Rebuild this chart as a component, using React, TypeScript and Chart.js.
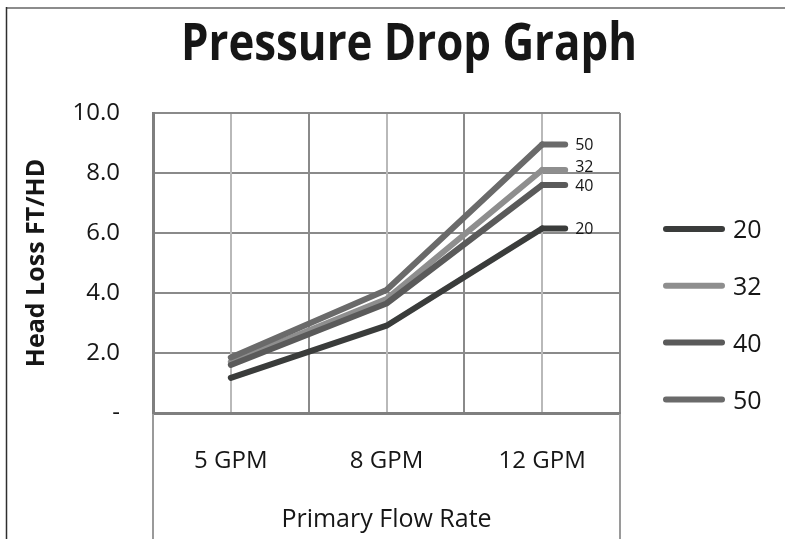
import React, { useEffect, useRef } from 'react';
import { Chart, registerables } from 'chart.js';

Chart.register(...registerables);

// ---- data ----
const categories = ['5 GPM', '8 GPM', '12 GPM'];
const seriesNames = ['20', '32', '40', '50'];
const values20 = [1.17, 2.91, 6.15];
const values32 = [1.7, 3.8, 8.1];
const values40 = [1.6, 3.65, 7.6];
const values50 = [1.85, 4.1, 8.95];
const yMin = 0;
const yMax = 10;
const yStep = 2;
const chartTitle = 'Pressure Drop Graph';
const yTitle = 'Head Loss FT/HD';
const xTitle = 'Primary Flow Rate';

// ---- styles ----
const seriesColors = ['#3a3c3b', '#8e8e8e', '#5a5a5a', '#6a6a6a'];
const FONT = "'Open Sans', sans-serif";
const TEXT = '#161616';
const GRID = '#8a8a8a';
const GRID_LIGHT = '#b9b9b9';

const decorPlugin = {
  id: 'decor',
  beforeDatasetsDraw(chart: any) {
    const { ctx, chartArea, scales } = chart;
    const xs = scales.x;
    ctx.save();
    ctx.strokeStyle = GRID_LIGHT;
    ctx.lineWidth = 2;
    categories.forEach((_, i) => {
      const x = Math.round(xs.getPixelForValue(i));
      ctx.beginPath();
      ctx.moveTo(x, chartArea.top + 1);
      ctx.lineTo(x, chartArea.bottom - 1);
      ctx.stroke();
    });
    ctx.restore();
  },
  afterDatasetsDraw(chart: any) {
    const { ctx } = chart;
    const n = chart.data.datasets.length;
    for (let i = 0; i < n; i++) {
      const ds = chart.data.datasets[i];
      const meta = chart.getDatasetMeta(i);
      const pt = meta.data[meta.data.length - 1];
      if (!pt) continue;
      ctx.save();
      ctx.strokeStyle = ds.borderColor;
      ctx.lineWidth = ds.borderWidth;
      ctx.lineCap = 'round';
      ctx.beginPath();
      ctx.moveTo(pt.x, pt.y);
      ctx.lineTo(pt.x + 23, pt.y);
      ctx.stroke();
      ctx.restore();
    }
    for (let i = 0; i < n; i++) {
      const ds = chart.data.datasets[i];
      const meta = chart.getDatasetMeta(i);
      const pt = meta.data[meta.data.length - 1];
      if (!pt) continue;
      const nudge = ds.label === '32' ? -4 : 0;
      ctx.save();
      ctx.font = `16px ${FONT}`;
      ctx.fillStyle = TEXT;
      ctx.textAlign = 'left';
      ctx.textBaseline = 'middle';
      ctx.fillText(ds.label, pt.x + 33, pt.y + nudge + 1);
      ctx.restore();
    }
  },
  afterDraw(chart: any) {
    const { ctx, chartArea, height } = chart;
    ctx.save();
    ctx.strokeStyle = '#8c8c8c';
    ctx.lineWidth = 2;
    ctx.beginPath();
    ctx.moveTo(6, 8);
    ctx.lineTo(chart.width, 8);
    ctx.stroke();
    ctx.strokeStyle = '#2e2e2e';
    ctx.lineWidth = 1.5;
    ctx.beginPath();
    ctx.moveTo(6.5, 7);
    ctx.lineTo(6.5, height);
    ctx.stroke();
    ctx.strokeStyle = '#9a9a9a';
    ctx.lineWidth = 2;
    [chartArea.left, chartArea.right].forEach((x: number) => {
      ctx.beginPath();
      ctx.moveTo(Math.round(x), chartArea.bottom + 1);
      ctx.lineTo(Math.round(x), height);
      ctx.stroke();
    });
    // title
    ctx.font = `bold 52px ${FONT}`;
    const w = ctx.measureText(chartTitle).width;
    const sx = 456 / w;
    ctx.translate(409, 60);
    ctx.scale(sx, 1);
    ctx.fillStyle = TEXT;
    ctx.textAlign = 'center';
    ctx.textBaseline = 'alphabetic';
    ctx.fillText(chartTitle, 0, 0);
    ctx.restore();

    // legend
    ctx.save();
    chart.data.datasets.forEach((ds: any, i: number) => {
      const y = 229 + i * 56.8;
      ctx.strokeStyle = ds.borderColor;
      ctx.lineWidth = 6;
      ctx.lineCap = 'round';
      ctx.beginPath();
      ctx.moveTo(666, y);
      ctx.lineTo(722, y);
      ctx.stroke();
      ctx.font = `25px ${FONT}`;
      ctx.fillStyle = TEXT;
      ctx.textAlign = 'left';
      ctx.textBaseline = 'middle';
      ctx.fillText(ds.label, 733, y + 2);
    });
    ctx.restore();
  },
};

export default function App() {
  const canvasRef = useRef<HTMLCanvasElement | null>(null);

  useEffect(() => {
    const canvas = canvasRef.current;
    if (!canvas) return;
    const allValues = [values20, values32, values40, values50];
    const chart = new Chart(canvas, {
      type: 'line',
      data: {
        labels: categories,
        datasets: seriesNames.map((name, i) => ({
          label: name,
          data: allValues[i],
          borderColor: seriesColors[i],
          backgroundColor: seriesColors[i],
          borderWidth: 6,
          borderCapStyle: 'round',
          borderJoinStyle: 'round',
          pointRadius: 0,
          pointHoverRadius: 0,
          tension: 0,
          fill: false,
          order: seriesNames.length - i,
        })),
      },
      plugins: [decorPlugin],
      options: {
        responsive: false,
        animation: false,
        devicePixelRatio: 1,
        layout: { padding: { left: 0, top: 113, right: 165, bottom: 0 } },
        plugins: {
          legend: { display: false },
          title: { display: false },
          tooltip: { enabled: false },
        },
        scales: {
          x: {
            type: 'category',
            offset: true,
            grid: { offset: true, color: GRID, lineWidth: 2, drawTicks: false },
            border: { color: '#7f7f7f', width: 3 },
            ticks: { font: { family: FONT, size: 24 }, color: TEXT, padding: 34, maxRotation: 0 },
            title: {
              display: true,
              text: xTitle,
              font: { family: FONT, size: 25 },
              color: TEXT,
              padding: { top: 0, bottom: 4 },
            },
            afterFit(scale: any) {
              scale.height = 126;
            },
          },
          y: {
            min: yMin,
            max: yMax,
            ticks: {
              stepSize: yStep,
              font: { family: FONT, size: 24 },
              color: TEXT,
              padding: 33,
              callback: (v: any) => (Number(v) === 0 ? '-' : Number(v).toFixed(1)),
            },
            grid: { color: GRID, lineWidth: 2, drawTicks: false },
            border: { color: '#7f7f7f', width: 3 },
            title: {
              display: true,
              text: yTitle,
              font: { family: FONT, size: 25, weight: 'bold' },
              color: TEXT,
              padding: { top: 22, bottom: 0 },
            },
            afterFit(scale: any) {
              scale.width = 153;
            },
          },
        },
      },
    } as any);
    return () => chart.destroy();
  }, []);

  return (
    <div style={{ position: 'absolute', left: 0, top: 0, width: 785, height: 539, background: '#fff' }}>
      <canvas ref={canvasRef} width={785} height={539} style={{ display: 'block' }} />
    </div>
  );
}
